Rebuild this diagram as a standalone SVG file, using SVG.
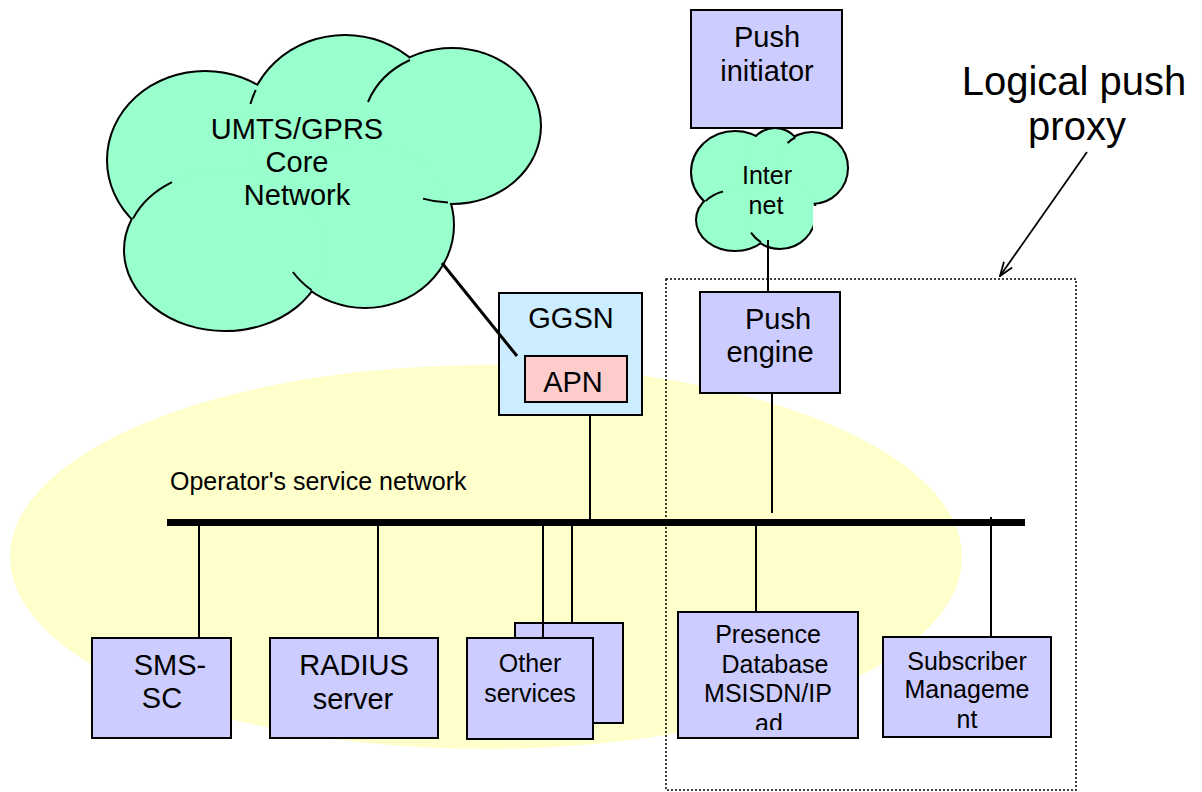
<svg xmlns="http://www.w3.org/2000/svg" width="1202" height="792" viewBox="0 0 1202 792">
<style>
.box{fill:#CCCCFF;stroke:#000;stroke-width:2}
.t{font-family:"Liberation Sans",Arial,Helvetica,sans-serif;fill:#000;text-anchor:middle}
.big{font-size:29px}
.sm{font-size:25px}
.wire{stroke:#000;stroke-width:2;fill:none}
.cl-o{fill:#99FFCC;stroke:#000;stroke-width:4}
.cl-f{fill:#99FFCC;stroke:none}
.inner{fill:none;stroke:#000;stroke-width:2}
</style>
<defs>
<g id="umtsLobes">
<ellipse cx="205" cy="160" rx="97" ry="88"/>
<ellipse cx="345" cy="128" rx="98" ry="92"/>
<ellipse cx="452" cy="126" rx="88" ry="77"/>
<ellipse cx="365" cy="225" rx="88" ry="82"/>
<ellipse cx="225" cy="250" rx="100" ry="80"/>
</g>
<g id="inetLobes">
<ellipse cx="735" cy="172" rx="43" ry="40"/>
<ellipse cx="775" cy="165" rx="30" ry="36"/>
<ellipse cx="812" cy="168" rx="35" ry="35"/>
<ellipse cx="735" cy="220" rx="38" ry="30"/>
<ellipse cx="780" cy="213" rx="35" ry="35"/>
</g>
<marker id="openArrow" viewBox="0 0 16 12" refX="15" refY="6" markerWidth="16" markerHeight="12" markerUnits="userSpaceOnUse" orient="auto">
<path d="M1,1 L15,6 L1,11" fill="none" stroke="#000" stroke-width="1.8"/>
</marker>
<clipPath id="presClip"><rect x="678" y="612" width="180" height="118"/></clipPath>
</defs>
<rect x="0" y="0" width="1202" height="792" fill="#FFFFFF"/>

<g id="operator-network">
<ellipse cx="486" cy="557" rx="476" ry="192" fill="#FFFFCC"/>
<text class="t" x="170" y="490" style="font-size:25px;text-anchor:start">Operator's service network</text>
</g>

<g id="logical-push-proxy">
<rect x="666" y="279" width="410" height="511" fill="none" stroke="#000" stroke-width="1.5" stroke-dasharray="2 2"/>
<text class="t" x="1074" y="95" style="font-size:40px">Logical push</text>
<text class="t" x="1077" y="140" style="font-size:40px">proxy</text>
</g>

<g id="umts-cloud">
<use href="#umtsLobes" class="cl-o"/>
<use href="#umtsLobes" class="cl-f"/>
<path class="inner" d="M255.8,90 A98,92 0 0 0 250.4,104"/>
<path class="inner" d="M410,60 A88,77 0 0 0 368,102"/>
<path class="inner" d="M423,198.6 A88,77 0 0 0 448,202.5"/>
<path class="inner" d="M292.9,272 A88,82 0 0 0 311.5,290.1"/>
<path class="inner" d="M172,182.2 A100,80 0 0 0 133,218.6"/>
<text class="t big" x="297" y="139">UMTS/GPRS</text>
<text class="t big" x="297" y="172">Core</text>
<text class="t big" x="297" y="205">Network</text>
</g>

<g id="internet-cloud">
<use href="#inetLobes" class="cl-o"/>
<use href="#inetLobes" class="cl-f"/>
<path class="inner" d="M795.3,137.5 A35,35 0 0 0 787.5,143"/>
<path class="inner" d="M723,191.5 A38,30 0 0 0 705.5,201.1"/>
<path class="inner" d="M751,232.6 A35,35 0 0 0 761,242.3"/>
<rect x="813" y="206" width="7" height="23" fill="#FFFFFF"/>
<text class="t sm" x="767" y="184">Inter</text>
<text class="t sm" x="766" y="214">net</text>
</g>

<g id="push-initiator">
<rect class="box" x="691" y="10" width="151" height="118"/>
<text class="t big" x="767" y="47">Push</text>
<text class="t big" x="767" y="81">initiator</text>
</g>

<g id="push-engine">
<rect class="box" x="700" y="292" width="140" height="101"/>
<text class="t big" x="778" y="329">Push</text>
<text class="t big" x="770" y="362">engine</text>
</g>

<g id="ggsn">
<rect x="499" y="293" width="143" height="122" fill="#CCECFF" stroke="#000" stroke-width="2"/>
<text class="t big" x="571" y="328">GGSN</text>
</g>

<g id="apn">
<rect x="525" y="356" width="102" height="46" fill="#FFCCCC" stroke="#000" stroke-width="2"/>
<text class="t big" x="573" y="392">APN</text>
</g>

<g id="sms-sc">
<rect class="box" x="92" y="638" width="139" height="100"/>
<text class="t big" x="170" y="675">SMS-</text>
<text class="t big" x="162" y="708">SC</text>
</g>

<g id="radius-server">
<rect class="box" x="270" y="638" width="168" height="100"/>
<text class="t big" x="354" y="675">RADIUS</text>
<text class="t big" x="353" y="709">server</text>
</g>

<g id="other-services-back">
<rect class="box" x="515" y="623" width="108" height="100"/>
</g>

<g id="presence-database">
<rect class="box" x="678" y="612" width="180" height="126"/>
<g clip-path="url(#presClip)">
<text class="t sm" x="768" y="643">Presence</text>
<text class="t sm" x="775" y="673">Database</text>
<text class="t sm" x="768" y="702">MSISDN/IP</text>
<text class="t sm" x="769" y="732">ad</text>
</g>
</g>

<g id="subscriber-management">
<rect class="box" x="883" y="637" width="168" height="100"/>
<text class="t sm" x="967" y="670">Subscriber</text>
<text class="t sm" x="967" y="698">Manageme</text>
<text class="t sm" x="967" y="728">nt</text>
</g>

<g id="connectors">
<line x1="167" y1="522.5" x2="1025" y2="522.5" stroke="#000" stroke-width="7"/>
<line x1="442" y1="263" x2="517" y2="356" stroke="#000" stroke-width="3"/>
<line class="wire" x1="768" y1="240" x2="768" y2="292"/>
<line class="wire" x1="772" y1="393" x2="772" y2="513"/>
<line class="wire" x1="590" y1="415" x2="590" y2="520"/>
<line class="wire" x1="199" y1="524" x2="199" y2="638"/>
<line class="wire" x1="378" y1="524" x2="378" y2="638"/>
<line class="wire" x1="543" y1="524" x2="543" y2="638"/>
<line class="wire" x1="572" y1="524" x2="572" y2="623"/>
<line class="wire" x1="756" y1="524" x2="756" y2="612"/>
<line class="wire" x1="991" y1="517" x2="991" y2="637"/>
<line x1="1087" y1="152" x2="1000" y2="276" stroke="#000" stroke-width="1.8" marker-end="url(#openArrow)"/>
</g>

<g id="other-services-front">
<rect class="box" x="467" y="638" width="126" height="101"/>
<text class="t sm" x="530" y="672">Other</text>
<text class="t sm" x="530" y="702">services</text>
</g>
</svg>
